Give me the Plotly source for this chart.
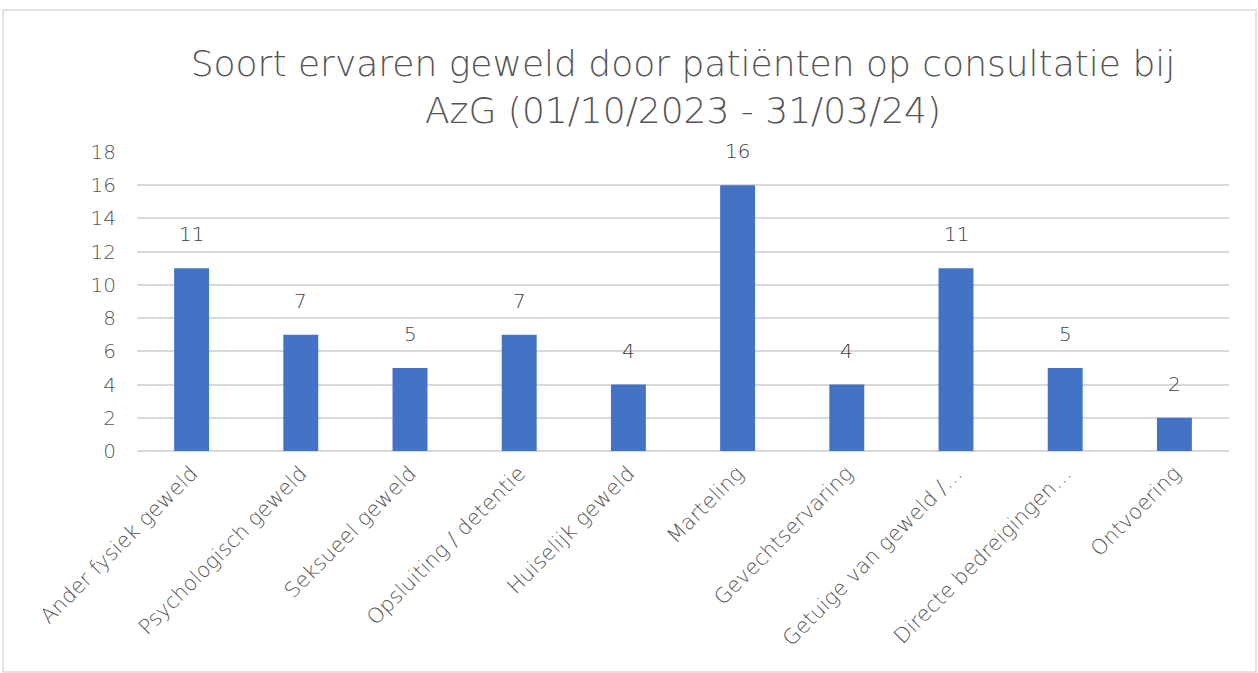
import plotly.graph_objects as go

categories = ["Ander fysiek geweld", "Psychologisch geweld", "Seksueel geweld",
              "Opsluiting / detentie", "Huiselijk geweld", "Marteling",
              "Gevechtservaring", "Getuige van geweld /…", "Directe bedreigingen…",
              "Ontvoering"]
values = [11, 7, 5, 7, 4, 16, 4, 11, 5, 2]
title_text = "Soort ervaren geweld door patiënten op consultatie bij<br>AzG (01/10/2023 - 31/03/24)"

FONT = "'DejaVu Sans', sans-serif"

fig = go.Figure(go.Bar(
    x=categories, y=values,
    marker=dict(color="#4472C4", line=dict(color="#4472C4", width=0)),
    cliponaxis=False,
))
for c, v in zip(categories, values):
    fig.add_annotation(x=c, y=v, text=str(v), showarrow=False, yanchor="bottom",
                       yshift=20, font=dict(size=20, color="#404040", family=FONT, weight=300))

W, H = 1258, 673
L, R, T, B = 137, 29, 152, 222
fig.update_layout(
    width=W, height=H,
    margin=dict(l=L, r=R, t=T, b=B, autoexpand=False),
    paper_bgcolor="white", plot_bgcolor="white",
    bargap=0.68,
    showlegend=False,
    title=dict(text=title_text, x=(L + (W - L - R) / 2) / W, xanchor="center",
               y=1 - 76 / H, yanchor="middle",
               font=dict(size=36, color="#555555", family=FONT, weight=300)),
    font=dict(family=FONT, color="#555555"),
)
fig.update_yaxes(range=[0, 18], dtick=2, showgrid=True, gridcolor="#d9d9d9",
                 gridwidth=1.5, zeroline=True, zerolinecolor="#d9d9d9",
                 zerolinewidth=1.5, ticks="", ticklen=0, ticklabelstandoff=20,
                 tickfont=dict(size=20, color="#555555", family=FONT, weight=300))
fig.update_xaxes(tickangle=-45, showline=False, ticks="", ticklabelstandoff=5,
                 tickfont=dict(size=21, color="#555555", family=FONT, weight=300))

pw, ph = W - L - R, H - T - B
fig.add_shape(type="rect", xref="paper", yref="paper",
              x0=(3 - L) / pw, x1=(1256 - L) / pw,
              y0=(H - 672 - B) / ph, y1=(H - 10 - B) / ph,
              line=dict(color="#d9d9d9", width=1.5), fillcolor="rgba(0,0,0,0)",
              layer="below")

fig.write_html("out.html", config={"displayModeBar": False},
               post_script="document.body.style.margin='0';")
